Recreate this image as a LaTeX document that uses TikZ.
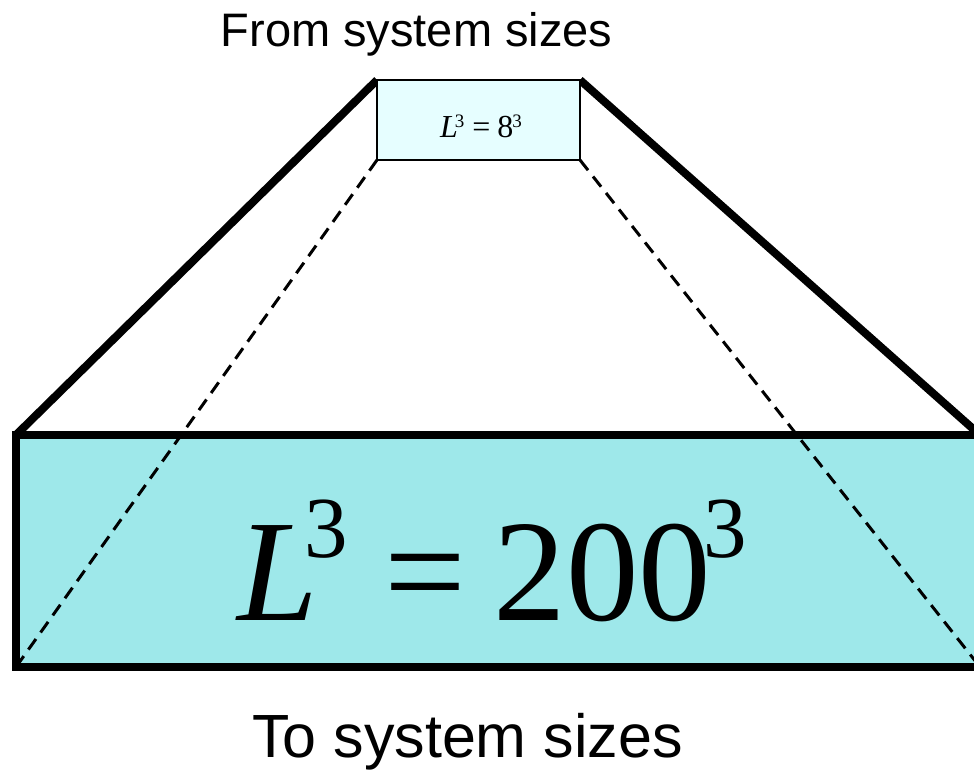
\documentclass[tikz,border=0pt]{standalone}
\usepackage{fontspec}
\setmainfont{Liberation Serif}
\newfontfamily\arialfont{Liberation Sans}
\definecolor{bigfill}{RGB}{158,232,234}
\definecolor{smallfill}{RGB}{230,254,255}
\tikzset{
  thickline/.style={line width=8pt},
  dashline/.style={line width=3pt, dash pattern=on 13pt off 8pt},
  plain/.style={inner sep=0pt, outer sep=0pt}
}
\begin{document}
\begin{tikzpicture}[x=1pt,y=-1pt]
\useasboundingbox (0,0) rectangle (974,769);
\clip (0,0) rectangle (974,769);
% big box fill
\node[plain, fill=bigfill, minimum width=964pt, minimum height=232pt] (big) at (498,551) {};
% small box
\node[plain, minimum width=203pt, minimum height=80pt] (small) at (478.5,120) {};
% connectors
\draw[dashline] (small.south west) -- (big.south west);
\draw[dashline] (small.south east) -- (big.south east);
\draw[thickline] (small.north west) -- (big.north west);
\draw[thickline] (small.north east) -- (big.north east);
% big box border
\draw[thickline] (big.north west) rectangle (big.south east);
% small box drawn on top
\draw[line width=2pt, fill=smallfill] (small.north west) rectangle (small.south east);
% equations
\node[plain, anchor=base west] (bigeq) at (237,620) {\fontsize{145}{145}\selectfont\itshape L\upshape\hspace{-13pt}\raisebox{63pt}{\fontsize{87}{87}\selectfont 3}\hspace{36pt}=\hspace{28pt}200\hspace{-8pt}\raisebox{63pt}{\fontsize{87}{87}\selectfont 3}};
\node[plain, anchor=base west] (smalleq) at (440,137) {\fontsize{32}{32}\selectfont\itshape L\upshape\hspace{-3pt}\raisebox{10pt}{\fontsize{19}{19}\selectfont 3}\hspace{8pt}=\hspace{7pt}8\hspace{-1pt}\raisebox{10pt}{\fontsize{19}{19}\selectfont 3}};
% labels
\node[plain, anchor=base, font=\arialfont\fontsize{47}{47}\selectfont] (from) at (416.5,46) {From system sizes};
\node[plain, anchor=base, font=\arialfont\fontsize{61}{61}\selectfont] (to) at (467.5,757) {To system sizes};
\end{tikzpicture}
\end{document}
